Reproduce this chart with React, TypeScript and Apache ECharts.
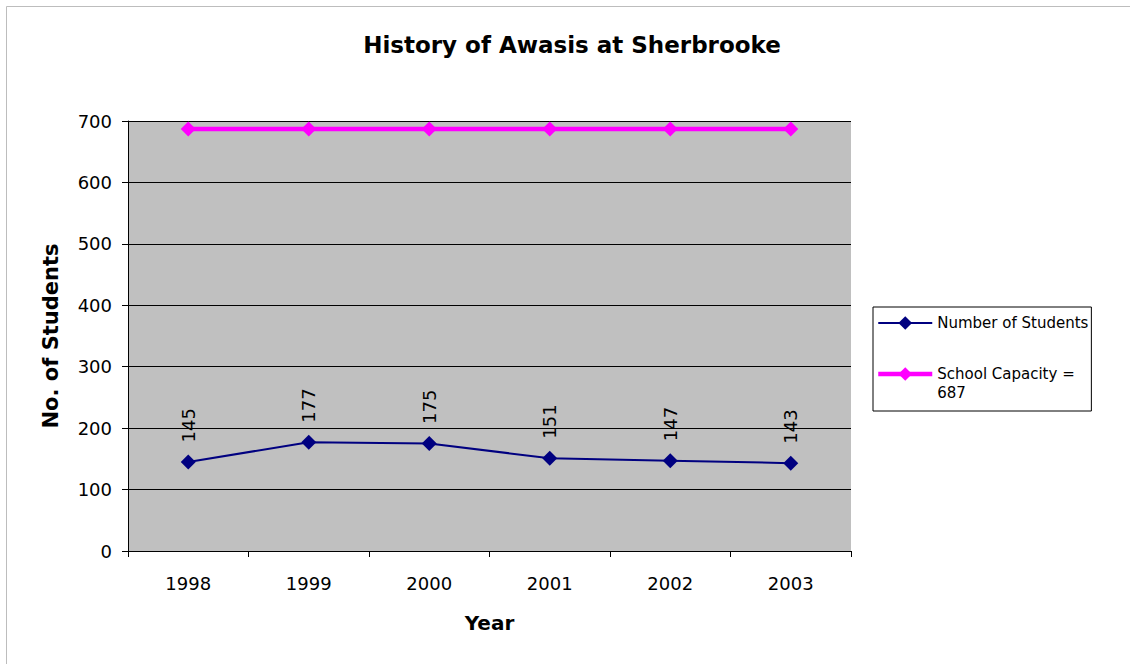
import React, { useEffect, useRef } from "react";
import * as echarts from "echarts";

const years = ["1998", "1999", "2000", "2001", "2002", "2003"];
const students = [145, 177, 175, 151, 147, 143];
const capacity = [687, 687, 687, 687, 687, 687];
const yTicks = { min: 0, max: 700, interval: 100 };
const seriesNames = ["Number of Students", "School Capacity =\n687"];

const FONT = "DejaVu Sans";

export default function App() {
  const ref = useRef<HTMLDivElement>(null);
  useEffect(() => {
    document.body.style.margin = "0";
    const chart = echarts.init(ref.current!, null, { renderer: "svg" });
    chart.setOption({
      animation: false,
      backgroundColor: "#fff",
      textStyle: { fontFamily: FONT, color: "#000" },
      title: {
        text: "History of Awasis at Sherbrooke",
        left: 567,
        textAlign: "center",
        top: 28,
        textStyle: { fontFamily: FONT, fontSize: 23, fontWeight: "bold", color: "#000" },
      },
      graphic: [
        {
          type: "rect",
          silent: true,
          shape: { x: 6.5, y: 6.5, width: 1130, height: 664 },
          style: { fill: "none", stroke: "#bdbdbd", lineWidth: 1 },
        },
      ],
      legend: {
        orient: "vertical",
        left: 873,
        top: 307,
        padding: [6.5, 3, 8.5, 3],
        itemGap: 13,
        itemWidth: 54,
        itemHeight: 17,
        borderColor: "#000",
        borderWidth: 1,
        backgroundColor: "#fff",
        lineStyle: { width: "inherit" },
        textStyle: { fontFamily: FONT, fontSize: 15, color: "#000", lineHeight: 19 },
        formatter: (name: string) => (name.indexOf("\n") >= 0 ? "\n" + name : name),
        data: seriesNames,
      },
      grid: {
        left: 128,
        right: 279,
        top: 121,
        bottom: 113,
        show: true,
        backgroundColor: "#c0c0c0",
        borderWidth: 0,
      },
      xAxis: {
        type: "category",
        data: years,
        boundaryGap: true,
        name: "Year",
        nameLocation: "middle",
        nameGap: 62,
        nameTextStyle: { fontFamily: FONT, fontSize: 20, fontWeight: "bold", color: "#000" },
        axisLine: { show: true, lineStyle: { color: "#000", width: 1 } },
        axisTick: { show: true, length: 6, interval: 0, lineStyle: { color: "#000" } },
        axisLabel: { fontFamily: FONT, fontSize: 18, color: "#000", margin: 23, interval: 0 },
        splitLine: { show: false },
      },
      yAxis: {
        type: "value",
        min: yTicks.min,
        max: yTicks.max,
        interval: yTicks.interval,
        name: "No. of Students",
        nameLocation: "middle",
        nameRotate: 90,
        nameGap: 67,
        nameTextStyle: { fontFamily: FONT, fontSize: 21, fontWeight: "bold", color: "#000" },
        axisLine: { show: true, lineStyle: { color: "#000", width: 1 } },
        axisTick: { show: true, length: 6, lineStyle: { color: "#000" } },
        axisLabel: { fontFamily: FONT, fontSize: 18, color: "#000", margin: 16 },
        splitLine: { show: true, lineStyle: { color: "#000", width: 1 } },
      },
      series: [
        {
          name: seriesNames[0],
          type: "line",
          data: students,
          symbol: "diamond",
          symbolSize: 15,
          itemStyle: { color: "#000080" },
          lineStyle: { color: "#000080", width: 2 },
          label: {
            show: true,
            position: "top",
            distance: 12,
            rotate: 90,
            align: "left",
            verticalAlign: "middle",
            fontFamily: FONT,
            fontSize: 18,
            color: "#000",
          },
          z: 3,
        },
        {
          name: seriesNames[1],
          type: "line",
          data: capacity,
          symbol: "diamond",
          symbolSize: 15,
          itemStyle: { color: "#ff00ff" },
          lineStyle: { color: "#ff00ff", width: 4.5 },
          z: 2,
        },
      ],
    });
    return () => chart.dispose();
  }, []);
  return <div ref={ref} style={{ width: 1130, height: 664 }} />;
}
